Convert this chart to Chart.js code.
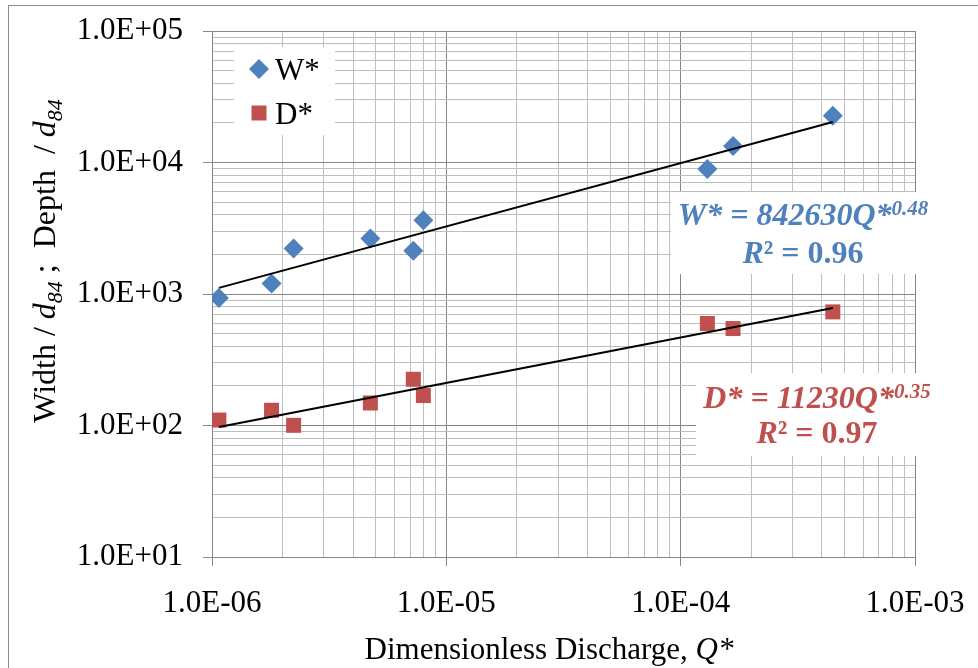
<!DOCTYPE html>
<html><head><meta charset="utf-8">
<script src="https://cdn.jsdelivr.net/npm/chart.js@4/dist/chart.umd.min.js"></script>
<style>html,body{margin:0;padding:0;background:#fff}canvas{display:block}</style>
</head><body>
<canvas id="c" width="978" height="668"></canvas>
<script>
// ---- data ----
const qStar = [1.07e-6, 1.795e-6, 2.23e-6, 4.74e-6, 7.23e-6, 7.98e-6, 1.30e-4, 1.673e-4, 4.46e-4];
const wStar = [934, 1202, 2220, 2645, 2128, 3645, 8910, 13330, 22670];
const dStar = [110, 130.6, 100.3, 148.3, 224.7, 168.9, 596.5, 546, 731];
const wTrendQ = [1.07e-6, 4.46e-4];
const wTrendVal = [1113, 20300];
const dTrendQ = [1.07e-6, 4.46e-4];
const dTrendVal = [97.4, 784];
const seriesNames = ['W*', 'D*'];
const xDecades = [1e-6, 1e-5, 1e-4, 1e-3];
const xTickLabels = ['1.0E-06', '1.0E-05', '1.0E-04', '1.0E-03'];
const yDecades = [1e1, 1e2, 1e3, 1e4, 1e5];
const yTickLabels = ['1.0E+01', '1.0E+02', '1.0E+03', '1.0E+04', '1.0E+05'];
const wEquation = ['W* = 842630Q*', '0.48', 'R', '\u00B2 = 0.96'];
const dEquation = ['D* = 11230Q*', '0.35', 'R', '\u00B2 = 0.97'];

const FAM = '"Liberation Serif", "Times New Roman", serif';
const BLUE = '#4F81BD', RED = '#C0504D';
const MAJOR = '#868686', MINOR = '#BEBEBE';

function logTicks(dec) {
  const t = [];
  for (let i = 0; i < dec.length - 1; i++) for (let m = 1; m < 10; m++) t.push({value: m * dec[i]});
  t.push({value: dec[dec.length - 1]});
  return t;
}
function decIdx(v, dec) { return dec.findIndex(d => Math.abs(v / d - 1) < 1e-6); }
function pts(xs, ys) { return xs.map((x, i) => ({x: x, y: ys[i]})); }

function drawRich(ctx, pieces, x0, baseline, align) {
  let total = 0;
  pieces.forEach(p => { ctx.font = p.f; p.w = ctx.measureText(p.t).width; total += p.w; });
  let x = align === 'center' ? x0 - total / 2 : x0;
  pieces.forEach(p => {
    ctx.font = p.f; ctx.fillStyle = p.c || '#000';
    ctx.fillText(p.t, x, baseline + (p.dy || 0));
    x += p.w;
  });
}

const overlay = {
  id: 'overlay',
  beforeDraw(chart) {
    const ctx = chart.ctx;
    ctx.save();
    ctx.fillStyle = '#fff'; ctx.fillRect(0, 0, chart.width, chart.height);
    ctx.strokeStyle = '#8C8C8C'; ctx.lineWidth = 1;
    ctx.strokeRect(8.5, 5.5, 1200, 1200);
    ctx.restore();
  },
  beforeDatasetsDraw(chart) {
    const ctx = chart.ctx;
    ctx.save();
    ctx.textBaseline = 'alphabetic';
    // legend box
    ctx.fillStyle = '#fff';
    ctx.fillRect(234, 47, 101, 88);
    ctx.fillStyle = BLUE;
    ctx.beginPath();
    ctx.moveTo(259, 59); ctx.lineTo(269, 69); ctx.lineTo(259, 79); ctx.lineTo(249, 69); ctx.closePath(); ctx.fill();
    ctx.fillStyle = RED;
    ctx.fillRect(251.5, 105.5, 15, 15);
    ctx.fillStyle = '#000';
    ctx.font = '31px ' + FAM;
    ctx.fillText(seriesNames[0], 275, 80);
    ctx.fillText(seriesNames[1], 275, 124);

    // equation boxes
    ctx.fillStyle = '#fff';
    ctx.fillRect(671, 192, 246, 82);
    ctx.fillRect(696, 373, 221, 83);
    const bi = 'italic bold 32px ' + FAM, bis = 'italic bold 21px ' + FAM, b = 'bold 32px ' + FAM;
    drawRich(ctx, [{t: wEquation[0], f: bi, c: BLUE}, {t: wEquation[1], f: bis, c: BLUE, dy: -10}], 803, 225, 'center');
    drawRich(ctx, [{t: wEquation[2], f: bi, c: BLUE}, {t: wEquation[3], f: b, c: BLUE}], 803, 263, 'center');
    drawRich(ctx, [{t: dEquation[0], f: bi, c: RED}, {t: dEquation[1], f: bis, c: RED, dy: -10}], 817, 408, 'center');
    drawRich(ctx, [{t: dEquation[2], f: bi, c: RED}, {t: dEquation[3], f: b, c: RED}], 817, 443, 'center');

    // axis titles
    const r = '31px ' + FAM, it = 'italic 31px ' + FAM;
    drawRich(ctx, [{t: 'Dimensionless Discharge, ', f: r}, {t: 'Q*', f: it}], 549, 659, 'center');
    const r2 = '32px ' + FAM, it2 = 'italic 32px ' + FAM, its2 = 'italic 22px ' + FAM;
    ctx.translate(55, 261);
    ctx.rotate(-Math.PI / 2);
    drawRich(ctx, [
      {t: 'Width / ', f: r2}, {t: 'd', f: it2}, {t: '84', f: its2, dy: 7},
      {t: ' ;  Depth  / ', f: r2}, {t: 'd', f: it2}, {t: '84', f: its2, dy: 7}
    ], 0, 0, 'center');
    ctx.restore();
  }
};

function gridOpts(dec) {
  return {
    color: c => (c.tick && decIdx(c.tick.value, dec) >= 0) ? MAJOR : MINOR,
    tickColor: c => (c.tick && decIdx(c.tick.value, dec) >= 0) ? MAJOR : 'rgba(0,0,0,0)',
    tickLength: 9,
    lineWidth: 1,
    drawTicks: true
  };
}

new Chart(document.getElementById('c'), {
  type: 'scatter',
  data: {
    datasets: [
      {label: 'W* trend', data: pts(wTrendQ, wTrendVal), showLine: true, borderColor: '#000', borderWidth: 2, pointRadius: 0, order: 0},
      {label: 'D* trend', data: pts(dTrendQ, dTrendVal), showLine: true, borderColor: '#000', borderWidth: 2, pointRadius: 0, order: 0},
      {label: seriesNames[0], data: pts(qStar, wStar), pointStyle: 'rectRot', pointRadius: 10, backgroundColor: BLUE, borderColor: BLUE, borderWidth: 0, order: 1},
      {label: seriesNames[1], data: pts(qStar, dStar), pointStyle: 'rect', pointRadius: 10.6, backgroundColor: RED, borderColor: RED, borderWidth: 0, order: 1}
    ]
  },
  options: {
    responsive: false,
    animation: false,
    devicePixelRatio: 1,
    layout: {padding: {left: 0, right: 63, top: 31, bottom: 0}},
    plugins: {legend: {display: false}, tooltip: {enabled: false}},
    scales: {
      x: {
        type: 'logarithmic', min: xDecades[0], max: xDecades[xDecades.length - 1],
        afterBuildTicks: s => { s.ticks = logTicks(xDecades); },
        afterFit: s => { s.height = 111; s.paddingLeft = 0; s.paddingRight = 0; },
        ticks: {autoSkip: false, maxRotation: 0, minRotation: 0, padding: 19, color: '#000', font: {family: FAM, size: 31},
          callback: v => { const i = decIdx(v, xDecades); return i >= 0 ? xTickLabels[i] : ''; }},
        grid: gridOpts(xDecades),
        border: {color: MAJOR, width: 1}
      },
      y: {
        type: 'logarithmic', min: yDecades[0], max: yDecades[yDecades.length - 1],
        afterBuildTicks: s => { s.ticks = logTicks(yDecades); },
        afterFit: s => { s.width = 212; s.paddingTop = 0; s.paddingBottom = 0; },
        ticks: {autoSkip: false, padding: 20, color: '#000', font: {family: FAM, size: 31},
          callback: v => { const i = decIdx(v, yDecades); return i >= 0 ? yTickLabels[i] : ''; }},
        grid: gridOpts(yDecades),
        border: {color: MAJOR, width: 1}
      }
    }
  },
  plugins: [overlay]
});
</script>
</body></html>
